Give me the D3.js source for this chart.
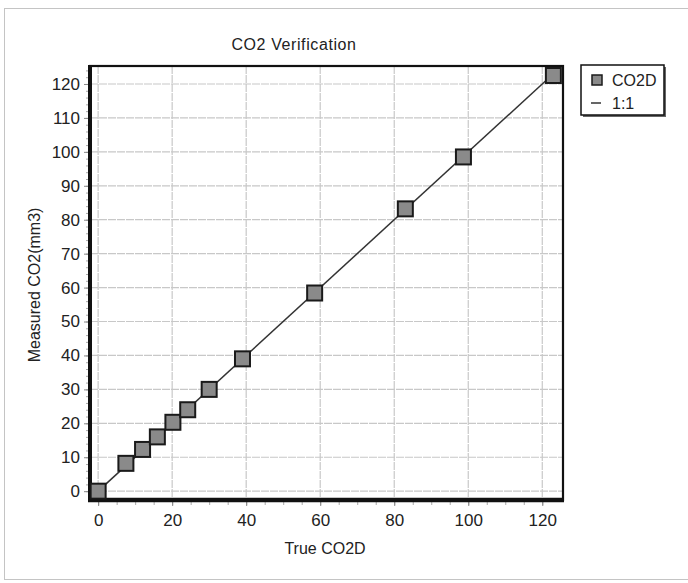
<!DOCTYPE html>
<html>
<head>
<meta charset="utf-8">
<script src="https://cdn.jsdelivr.net/npm/d3@7"></script>
<style>
  body { margin: 0; background: #fff; }
  svg { display: block; font-family: "Liberation Sans", Arial, sans-serif; }
</style>
</head>
<body>
<div id="chart"></div>
<script>
// data
var trueCO2 = [0, 7.5, 12, 16, 20.2, 24.2, 30, 39, 58.5, 83, 98.7, 123];
var measuredCO2 = [0, 8.2, 12.3, 16, 20.3, 24, 30, 39, 58.4, 83.2, 98.5, 122.5];
var oneToOne = [0, 123];
var xTicks = [0, 20, 40, 60, 80, 100, 120];
var yTicks = [0, 10, 20, 30, 40, 50, 60, 70, 80, 90, 100, 110, 120];

(function(){
  var width = 688, height = 583;
  var pl = 90, pr = 563, pt = 66, pb = 500;

  var svg = d3.select('#chart').append('svg')
    .attr('width', width).attr('height', height);

  // outer frame
  svg.append('rect')
    .attr('x', 4.5).attr('y', 8.5).attr('width', 690).attr('height', 571)
    .attr('fill', '#fff').attr('stroke', '#c4c4c4');

  var x = d3.scaleLinear().domain([-2.2, 125.6]).range([pl, pr]);
  var y = d3.scaleLinear().domain([-2.6, 125.3]).range([pb, pt]);

  // grid
  var grid = svg.append('g');
  grid.selectAll('.vg').data(xTicks).enter().append('line')
    .attr('x1', function(d){ return x(d); }).attr('x2', function(d){ return x(d); })
    .attr('y1', pt).attr('y2', pb)
    .attr('stroke', '#c8c8c8').attr('stroke-width', 1.2).attr('stroke-dasharray', '8,1');
  grid.selectAll('.hg').data(yTicks).enter().append('line')
    .attr('y1', function(d){ return y(d); }).attr('y2', function(d){ return y(d); })
    .attr('x1', pl).attr('x2', pr)
    .attr('stroke', '#c8c8c8').attr('stroke-width', 1.2).attr('stroke-dasharray', '8,1');

  // minor ticks
  svg.append('g').attr('transform', 'translate(0,' + pb + ')')
    .call(d3.axisBottom(x).tickValues(d3.range(0, 125, 5)).tickSize(5).tickFormat(''))
    .call(function(g){ g.select('.domain').remove(); g.selectAll('line').attr('stroke', '#aaa'); });
  svg.append('g').attr('transform', 'translate(' + pl + ',0)')
    .call(d3.axisLeft(y).tickValues(d3.range(0, 125, 2)).tickSize(4).tickFormat(''))
    .call(function(g){ g.select('.domain').remove(); g.selectAll('line').attr('stroke', '#aaa'); });

  // major axes
  var xAxis = svg.append('g').attr('transform', 'translate(0,' + pb + ')')
    .call(d3.axisBottom(x).tickValues(xTicks).tickSize(6).tickPadding(8));
  var yAxis = svg.append('g').attr('transform', 'translate(' + pl + ',0)')
    .call(d3.axisLeft(y).tickValues(yTicks).tickSize(6).tickPadding(4));
  [xAxis, yAxis].forEach(function(a){
    a.select('.domain').remove();
    a.selectAll('line').attr('stroke', '#888');
    a.selectAll('text').attr('font-size', 17).attr('fill', '#222')
      .attr('font-family', '"Liberation Sans", Arial, sans-serif');
  });

  // plot frame
  svg.append('rect')
    .attr('x', pl).attr('y', pt).attr('width', pr - pl).attr('height', pb - pt)
    .attr('fill', 'none').attr('stroke', '#111').attr('stroke-width', 2.2);
  svg.append('line').attr('x1', pl).attr('x2', pl).attr('y1', pt - 1).attr('y2', pb + 2)
    .attr('stroke', '#111').attr('stroke-width', 4);
  svg.append('line').attr('x1', pl - 2).attr('x2', pr + 1).attr('y1', pb).attr('y2', pb)
    .attr('stroke', '#111').attr('stroke-width', 4.5);

  // 1:1 line
  svg.append('line')
    .attr('x1', x(oneToOne[0])).attr('y1', y(oneToOne[0]))
    .attr('x2', x(oneToOne[1])).attr('y2', y(oneToOne[1]))
    .attr('stroke', '#333').attr('stroke-width', 1.5);

  // markers
  var ms = 15;
  svg.selectAll('.pt').data(trueCO2).enter().append('rect')
    .attr('x', function(d){ return x(d) - ms / 2; })
    .attr('y', function(d, i){ return y(measuredCO2[i]) - ms / 2; })
    .attr('width', ms).attr('height', ms)
    .attr('fill', '#8a8a8a').attr('stroke', '#1a1a1a').attr('stroke-width', 2);

  // titles
  svg.append('text').attr('x', 294).attr('y', 50).attr('text-anchor', 'middle')
    .attr('font-size', 16).attr('letter-spacing', 0.6).attr('fill', '#222').text('CO2 Verification');
  svg.append('text').attr('x', 325).attr('y', 554).attr('text-anchor', 'middle')
    .attr('font-size', 16).attr('fill', '#222').text('True CO2D');
  svg.append('text').attr('transform', 'translate(40,285) rotate(-90)').attr('text-anchor', 'middle')
    .attr('font-size', 16).attr('fill', '#222').text('Measured CO2(mm3)');

  // legend
  var lg = svg.append('g');
  lg.append('rect').attr('x', 583).attr('y', 67).attr('width', 83).attr('height', 50).attr('fill', '#666');
  lg.append('rect').attr('x', 581).attr('y', 65).attr('width', 83).attr('height', 50)
    .attr('fill', '#fff').attr('stroke', '#111').attr('stroke-width', 1.5);
  lg.append('rect').attr('x', 592).attr('y', 75).attr('width', 10).attr('height', 10)
    .attr('fill', '#8a8a8a').attr('stroke', '#1a1a1a').attr('stroke-width', 1.5);
  lg.append('text').attr('x', 612).attr('y', 86).attr('font-size', 16).attr('fill', '#222').text('CO2D');
  lg.append('line').attr('x1', 591).attr('x2', 601).attr('y1', 103).attr('y2', 103)
    .attr('stroke', '#333').attr('stroke-width', 1.5);
  lg.append('text').attr('x', 612).attr('y', 109).attr('font-size', 16).attr('fill', '#222').text('1:1');
})();
</script>
</body>
</html>
